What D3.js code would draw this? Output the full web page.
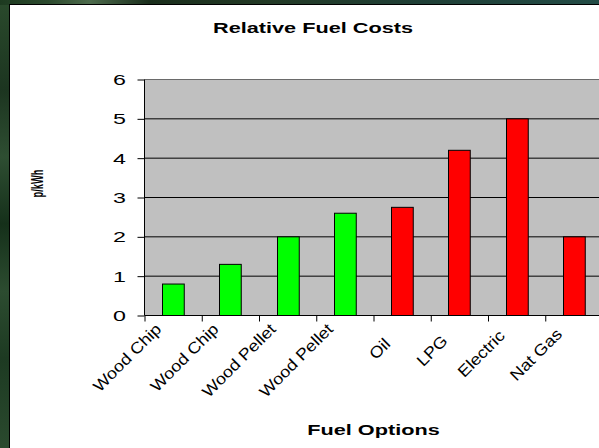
<!DOCTYPE html>
<html>
<head>
<meta charset="utf-8">
<script src="https://cdn.jsdelivr.net/npm/d3@7"></script>
<style>
  html, body { margin: 0; padding: 0; background: #1f3d26; }
  svg { display: block; }
  text { font-family: "Liberation Sans", Arial, sans-serif; fill: #000; }
</style>
</head>
<body>
<svg id="chart" width="599" height="448"></svg>
<script>
// ---- data ----
const categories = ["Wood Chip", "Wood Chip", "Wood Pellet", "Wood Pellet", "Oil", "LPG", "Electric", "Nat Gas"];
const costs = [0.8, 1.3, 2.0, 2.6, 2.75, 4.2, 5.0, 2.0];
const fuelGroup = ["biomass", "biomass", "biomass", "biomass", "conventional", "conventional", "conventional", "conventional"];
const yTicks = [0, 1, 2, 3, 4, 5, 6];
const chartTitle = "Relative Fuel Costs";
const xTitle = "Fuel Options";
const yTitle = "p/kWh";

// ---- layout ----
const W = 599, H = 448;
const plot = { left: 144.5, right: 602.5, top: 79.5, bottom: 315.5 };
const SX = 1.55; // horizontal stretch of the picture's text

const svg = d3.select("#chart");

// background (dark green texture)
const defs = svg.append("defs");
const g1 = defs.append("linearGradient").attr("id", "bgTop").attr("x1", 0).attr("x2", 1).attr("y1", 0).attr("y2", 0);
[["0%", "#1d3a20"], ["8%", "#2c4a2e"], ["15%", "#4d6b4c"], ["25%", "#1a2e1c"], ["45%", "#233a26"], ["70%", "#1f3f36"], ["100%", "#234c46"]]
  .forEach(([o, c]) => g1.append("stop").attr("offset", o).attr("stop-color", c));
const g2 = defs.append("linearGradient").attr("id", "bgLeft").attr("x1", 0).attr("x2", 0).attr("y1", 0).attr("y2", 1);
[["0%", "#2a4a2c"], ["20%", "#1c3520"], ["35%", "#2e4e32"], ["50%", "#15301a"], ["65%", "#2c4c30"], ["80%", "#1d3a22"], ["100%", "#2a4a2e"]]
  .forEach(([o, c]) => g2.append("stop").attr("offset", o).attr("stop-color", c));
svg.append("rect").attr("x", 0).attr("y", 0).attr("width", W).attr("height", H).attr("fill", "url(#bgLeft)");
svg.append("rect").attr("x", 0).attr("y", 0).attr("width", W).attr("height", 5).attr("fill", "url(#bgTop)");

// white chart panel
svg.append("rect")
  .attr("x", 9.5).attr("y", 4.5).attr("width", W + 20).attr("height", H + 20)
  .attr("fill", "#fff").attr("stroke", "#000").attr("stroke-width", 1);

// scales
const x = d3.scaleBand().domain(d3.range(categories.length))
  .range([plot.left, plot.right]).paddingInner(0.62).paddingOuter(0.31);
const xEdge = d3.scaleLinear().domain([0, categories.length]).range([plot.left, plot.right]);
const y = d3.scaleLinear().domain([0, 6]).range([plot.bottom, plot.top]);
const color = d3.scaleOrdinal().domain(["biomass", "conventional"]).range(["#00ff00", "#ff0000"]);

// plot area
svg.append("rect")
  .attr("x", plot.left).attr("y", plot.top)
  .attr("width", plot.right - plot.left).attr("height", plot.bottom - plot.top)
  .attr("fill", "#c0c0c0");

// gridlines
svg.append("g").selectAll("line")
  .data(yTicks.filter(t => t > 0))
  .join("line")
  .attr("x1", plot.left).attr("x2", plot.right)
  .attr("y1", d => y(d)).attr("y2", d => y(d))
  .attr("stroke", d => d === 6 ? "#6a6a6a" : "#000")
  .attr("stroke-width", 1);

// bars
svg.append("g").selectAll("rect")
  .data(costs)
  .join("rect")
  .attr("x", (d, i) => Math.round(x(i)) + 0.5)
  .attr("width", x.bandwidth())
  .attr("y", d => y(d))
  .attr("height", d => y(0) - y(d))
  .attr("fill", (d, i) => color(fuelGroup[i]))
  .attr("stroke", "#000").attr("stroke-width", 1);

// y axis
const yAxis = svg.append("g").attr("transform", `translate(${plot.left},0)`)
  .call(d3.axisLeft(y).tickValues(yTicks).tickSize(7).tickFormat(""));
yAxis.selectAll("path, line").attr("stroke", "#000");
yAxis.select(".domain").attr("d", `M0,${plot.top}V${plot.bottom}`);

// y tick labels (stretched)
svg.append("g").selectAll("text")
  .data(yTicks)
  .join("text")
  .attr("transform", d => `translate(126,${y(d)}) scale(${SX},1)`)
  .attr("text-anchor", "end")
  .attr("dy", "0.36em")
  .style("font-size", "15px")
  .text(d => d);

// x axis (ticks at category edges)
const xAxis = svg.append("g").attr("transform", `translate(0,${plot.bottom})`)
  .call(d3.axisBottom(xEdge).tickValues(d3.range(categories.length + 1)).tickSize(6).tickFormat(""));
xAxis.selectAll("path, line").attr("stroke", "#000");
xAxis.select(".domain").attr("d", `M${plot.left},0H${plot.right}`);

// x tick labels (rotated 45°, widened glyphs)
const xl = svg.append("g").selectAll("text")
  .data(categories)
  .join("text")
  .attr("text-anchor", "end")
  .attr("dy", "0.72em")
  .style("font-size", "16px")
  .text(d => d);
xl.each(function (d, i) {
  const len = this.getComputedTextLength();
  const off = Math.max(0, 79 - len) * 0.25;
  const cx = x(i) + x.bandwidth() / 2;
  d3.select(this)
    .attr("textLength", len * 1.12).attr("lengthAdjust", "spacingAndGlyphs")
    .attr("transform", `translate(${cx - 19},${322 + off}) rotate(-45)`);
});

// titles
svg.append("text")
  .attr("transform", `translate(313,32.5) scale(${SX},1)`)
  .attr("text-anchor", "middle")
  .style("font-size", "14px").style("font-weight", "bold")
  .text(chartTitle);

svg.append("text")
  .attr("transform", `translate(${(plot.left + plot.right) / 2},435) scale(${SX},1)`)
  .attr("text-anchor", "middle")
  .style("font-size", "14px").style("font-weight", "bold")
  .text(xTitle);

svg.append("text")
  .attr("transform", `translate(38,183.5) scale(1.3,1) rotate(-90)`)
  .attr("text-anchor", "middle")
  .attr("dy", "0.35em")
  .attr("textLength", 28).attr("lengthAdjust", "spacingAndGlyphs")
  .style("font-size", "12px").style("font-weight", "bold")
  .text(yTitle);
</script>
</body>
</html>
